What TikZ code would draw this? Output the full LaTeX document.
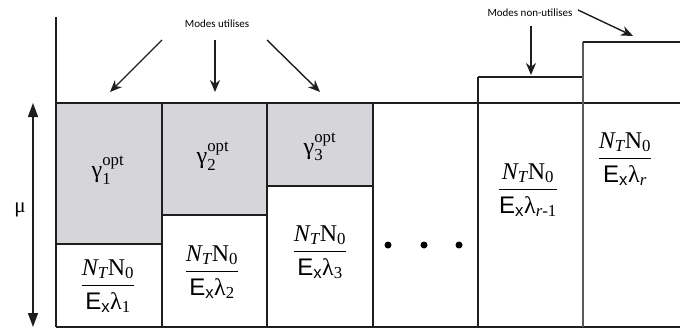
\documentclass[tikz,border=0pt]{standalone}
\usepackage{amsmath}
\usepackage{fontspec}
\setmainfont{Liberation Serif}
\setsansfont{Liberation Sans}
\newfontfamily\calib{Carlito}
\usetikzlibrary{arrows.meta}
\definecolor{grayfill}{RGB}{214,214,218}
\definecolor{linecol}{RGB}{30,30,30}
\newcommand{\ntn}[1]{$\dfrac{\textit{N}_{\textit{T}}\textrm{N}_{\textrm{0}}}{\textsf{E}_{\textsf{x}}\textrm{λ}_{#1}}$}
\newcommand{\gopt}[1]{$\textrm{γ}_{\textrm{#1}}^{\textrm{opt}}$}
\begin{document}
\begin{tikzpicture}[x=1pt,y=-1pt,
  ln/.style={draw=linecol, line width=1.4pt},
  thinln/.style={draw=black!65, line width=1.2pt},
  lbl/.style={font=\calib\fontsize{11}{13}\selectfont, inner sep=1pt},
  arr/.style={-{Stealth[length=12pt,width=10pt]}, line width=1.4pt, draw=linecol},
  fr/.style={font=\fontsize{24}{28}\selectfont, inner sep=0pt, anchor=base},
  gm/.style={font=\fontsize{24}{28}\selectfont, inner sep=0pt},
  dot/.style={circle, fill=black, inner sep=0pt, minimum size=7pt}
]
\useasboundingbox[fill=white] (0,0) rectangle (680,329);

% gray parts
\fill[grayfill] (56,103) rectangle (162,244);
\fill[grayfill] (162,103) rectangle (267,215);
\fill[grayfill] (267,103) rectangle (373,186);

% frame lines
\draw[ln] (56,17) -- (56,327);
\draw[ln] (56,103) -- (680,103);
\draw[ln] (56,327) -- (680,327);
\draw[ln] (162,103) -- (162,327);
\draw[ln] (267,103) -- (267,327);
\draw[ln] (373,103) -- (373,327);
\draw[ln] (478,77) -- (478,327);
\draw[ln] (478,77) -- (583,77);
\draw[thinln] (583,42) -- (583,327);
\draw[ln] (583,42) -- (680,42);
\draw[ln] (56,244) -- (162,244);
\draw[ln] (162,215) -- (267,215);
\draw[ln] (267,186) -- (373,186);

% mu axis
\coordinate (mutop) at (33,103);
\coordinate (mubot) at (33,327);
\draw[{Triangle[length=14pt,width=10pt]}-{Triangle[length=14pt,width=10pt]}, line width=1.3pt, draw=linecol] (mutop) -- (mubot);
\node[font=\fontsize{21}{24}\selectfont, inner sep=0pt] (mu) at (20,210) {μ};

% gamma nodes
\node[gm] (g1) at (108,170) {\gopt{1}};
\node[gm] (g2) at (213,156) {\gopt{2}};
\node[gm] (g3) at (320,147) {\gopt{3}};

% fractions
\node[fr] (f1) at (108,292) {\ntn{\textrm{1}}};
\node[fr] (f2) at (212,278) {\ntn{\textrm{2}}};
\node[fr] (f3) at (320,258) {\ntn{\textrm{3}}};
\node[fr] (f5) at (528,196) {\ntn{\textit{r}\textrm{-1}}};
\node[fr] (f6) at (625,165) {\ntn{\textit{r}}};

% dots
\node[dot] (d1) at (388,245) {};
\node[dot] (d2) at (424,245) {};
\node[dot] (d3) at (459,245) {};

% labels
\node[lbl] (mu1) at (217,24) {Modes utilises};
\node[lbl] (mn) at (530,13) {Modes non-utilises};

\coordinate (s1) at (162,40); \coordinate (t1) at (110,92);
\coordinate (s2) at (215,40); \coordinate (t2) at (215,92);
\coordinate (s3) at (267,40); \coordinate (t3) at (320,92);
\draw[arr] (s1) -- (t1);
\draw[arr] (s2) -- (t2);
\draw[arr] (s3) -- (t3);

\coordinate (s4) at (531,26); \coordinate (t4) at (531,75);
\coordinate (s5) at (578,10); \coordinate (t5) at (633,36);
\draw[arr] (s4) -- (t4);
\draw[arr] (s5) -- (t5);
\end{tikzpicture}
\end{document}
